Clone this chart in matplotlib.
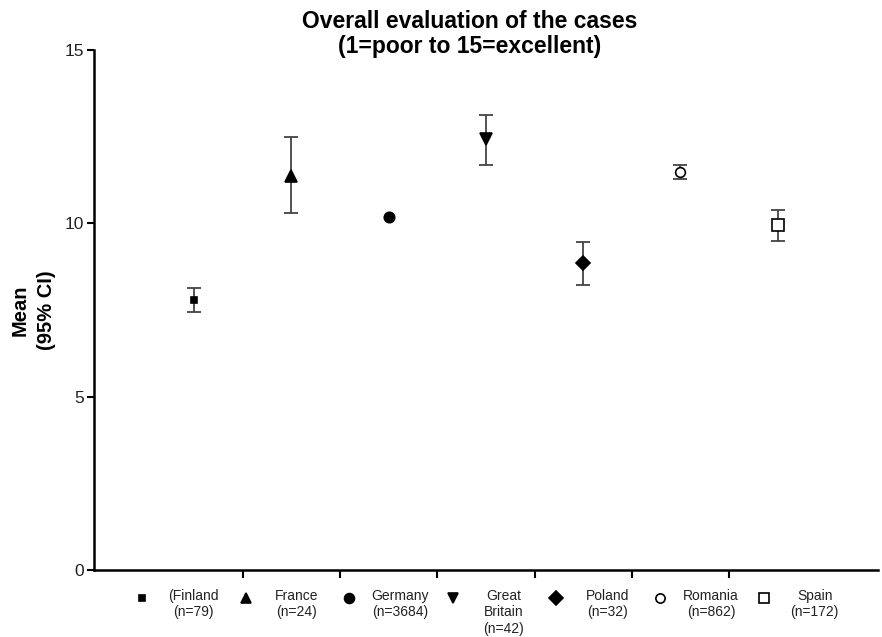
import matplotlib.pyplot as plt

plt.rcParams['font.family'] = ['Liberation Sans', 'DejaVu Sans']

countries = ['(Finland', 'France', 'Germany', 'Great\nBritain', 'Poland', 'Romania', 'Spain']
sizes = ['79', '24', '3684', '42', '32', '862', '172']
means = [7.79, 11.36, 10.17, 12.42, 8.85, 11.49, 9.96]
ci_low = [7.44, 10.31, 10.17, 11.68, 8.21, 11.29, 9.50]
ci_high = [8.13, 12.50, 10.17, 13.12, 9.46, 11.69, 10.39]
markers = ['s', '^', 'o', 'v', 'D', 'o', 's']
filled = [True, True, True, True, True, False, False]
marker_sizes = [5, 8, 7.5, 8, 7, 7, 8]

W, H = 882, 637
fig = plt.figure(figsize=(W / 100, H / 100), dpi=100)
ax = fig.add_axes([94 / W, 1 - 570 / H, 784 / W, 520 / H])

for i in range(len(countries)):
    face = 'black' if filled[i] else 'white'
    if ci_high[i] > ci_low[i]:
        ax.errorbar(i, means[i],
                    yerr=[[means[i] - ci_low[i]], [ci_high[i] - means[i]]],
                    fmt='none', ecolor='#444444', elinewidth=1.3,
                    capsize=5, capthick=1.3, zorder=2)
    ax.plot(i, means[i], marker=markers[i], mfc=face, mec='black',
            ms=marker_sizes[i], mew=1.2, linestyle='none', zorder=3)

ax.set_xlim(-1.028, 7.03)
ax.set_ylim(0, 15)
ax.set_yticks([0, 5, 10, 15])
ax.set_xticks([0.5, 1.5, 2.5, 3.5, 4.5, 5.5])
ax.set_xticklabels([])
for side in ['top', 'right']:
    ax.spines[side].set_visible(False)
for side in ['left', 'bottom']:
    ax.spines[side].set_linewidth(1.8)
ax.tick_params(axis='y', length=5, width=1.5, labelsize=12.5, colors='black',
               labelcolor='#222222', pad=2)
ax.tick_params(axis='x', length=6, width=1.5)

ax.set_ylabel('Mean\n(95% CI)', fontsize=14.5, fontweight='bold', labelpad=6,
              linespacing=1.5)
fig.text(470 / W, 1 - 34 / H, 'Overall evaluation of the cases\n(1=poor to 15=excellent)',
         ha='center', va='center', fontsize=16.5, fontweight='bold', linespacing=1.15)

# category key row under the axis
for i in range(len(countries)):
    mx = (142 + 103.6 * i) / W
    face = 'black' if filled[i] else 'white'
    ax.plot([mx], [1 - 598 / H], transform=fig.transFigure, clip_on=False,
            marker=markers[i], ms=marker_sizes[i] * 0.95, mfc=face, mec='black',
            mew=1.2, linestyle='none')
    fig.text(mx + 51 / W, 1 - 589 / H, f'{countries[i]}\n(n={sizes[i]})',
             ha='center', va='top', fontsize=10, color='#222222', linespacing=1.22)

fig.savefig('out.png', dpi=100)
